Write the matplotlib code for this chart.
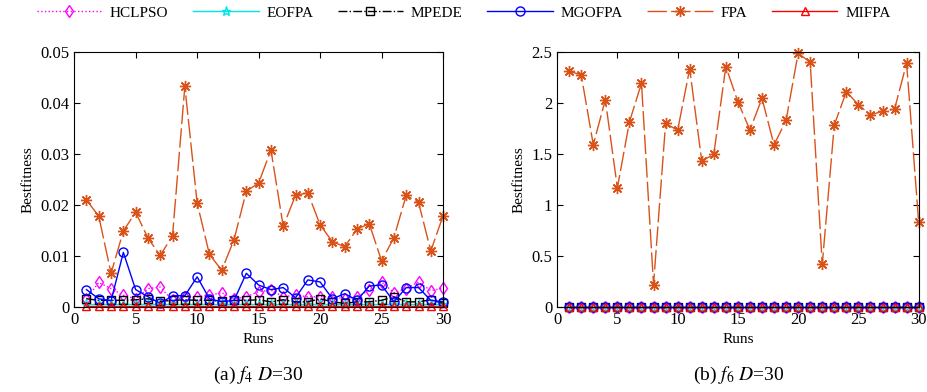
import numpy as np
import matplotlib
matplotlib.use("Agg")
import matplotlib.pyplot as plt

plt.rcParams['font.family'] = ['Liberation Serif', 'DejaVu Serif']
plt.rcParams['mathtext.fontset'] = 'stix'

runs = np.arange(1, 31)

# (a) f4 D=30
hclpso_a = [0.0016, 0.0048, 0.0036, 0.0023, 0.0016, 0.0036, 0.0039, 0.0013, 0.0020, 0.0020,
            0.0023, 0.0028, 0.0016, 0.0020, 0.0030, 0.0033, 0.0020, 0.0023, 0.0020, 0.0020,
            0.0020, 0.0016, 0.0020, 0.0033, 0.0049, 0.0028, 0.0036, 0.0049, 0.0032, 0.0037]
eofpa_a = [0.0005] * 30
mpede_a = [0.0016, 0.0013, 0.0013, 0.0013, 0.0014, 0.0016, 0.0011, 0.0013, 0.0014, 0.0013,
           0.0013, 0.0011, 0.0013, 0.0013, 0.0014, 0.0010, 0.0014, 0.0010, 0.0010, 0.0016,
           0.0010, 0.0007, 0.0010, 0.0010, 0.0013, 0.0020, 0.0010, 0.0010, 0.0014, 0.0007]
mgofpa_a = [0.0034, 0.0016, 0.0012, 0.0107, 0.0034, 0.0020, 0.0007, 0.0022, 0.0022, 0.0059,
            0.0016, 0.0010, 0.0013, 0.0066, 0.0043, 0.0034, 0.0038, 0.0018, 0.0053, 0.0049,
            0.0016, 0.0026, 0.0013, 0.0041, 0.0043, 0.0010, 0.0038, 0.0038, 0.0013, 0.0010]
fpa_a = [0.0210, 0.0178, 0.0066, 0.0149, 0.0186, 0.0135, 0.0101, 0.0140, 0.0433, 0.0204,
         0.0103, 0.0072, 0.0132, 0.0227, 0.0243, 0.0308, 0.0158, 0.0219, 0.0224, 0.0161,
         0.0128, 0.0118, 0.0153, 0.0163, 0.0090, 0.0136, 0.0219, 0.0205, 0.0110, 0.0179]
mifpa_a = [0.0001] * 30

# (b) f6 D=30
zeros_b = [0.0] * 30
fpa_b = [2.313, 2.276, 1.592, 2.033, 1.168, 1.816, 2.194, 0.220, 1.800, 1.734,
         2.336, 1.431, 1.497, 2.359, 2.013, 1.737, 2.046, 1.589, 1.832, 2.490,
         2.400, 0.418, 1.786, 2.112, 1.984, 1.885, 1.918, 1.941, 2.391, 0.832]

names = ['HCLPSO', 'EOFPA', 'MPEDE', 'MGOFPA', 'FPA', 'MIFPA']
styles = [
    dict(color='#FF00FF', ls=':', marker='d', ms=6),
    dict(color='#00E5E5', ls='-', marker='*', ms=6.5),
    dict(color='black', ls='-.', marker='s', ms=6),
    dict(color='#0000FF', ls='-', marker='o', ms=6.5),
    dict(color='#D95319', ls=(0, (14, 3)), marker=(8, 2, 0), ms=8),
    dict(color='#FF0000', ls='-', marker='^', ms=6),
]

fig = plt.figure(figsize=(9.27, 3.92), dpi=100)
ax1 = fig.add_axes([0.080, 0.217, 0.398, 0.650])
ax2 = fig.add_axes([0.601, 0.217, 0.390, 0.650])

data_a = [hclpso_a, eofpa_a, mpede_a, mgofpa_a, fpa_a, mifpa_a]
data_b = [zeros_b, zeros_b, zeros_b, zeros_b, fpa_b, zeros_b]

handles = []
for ax, data in ((ax1, data_a), (ax2, data_b)):
    hs = []
    for name, st, vals in zip(names, styles, data):
        h, = ax.plot(runs, vals, linestyle=st['ls'], color=st['color'], lw=1,
                     marker=st['marker'], ms=st['ms'], mfc='none', mec=st['color'],
                     mew=1, label=name, clip_on=False)
        hs.append(h)
    handles = hs
    ax.set_xlim(0, 30)
    ax.set_xticks([0, 5, 10, 15, 20, 25, 30])
    ax.tick_params(direction='in', top=True, right=True, labelsize=12, length=4)
    ax.set_xlabel('Runs', fontsize=11)
    ax.set_ylabel('Bestfitness', fontsize=11)

ax1.set_ylim(0, 0.05)
ax1.set_yticks([0, 0.01, 0.02, 0.03, 0.04, 0.05])
ax1.set_yticklabels(['0', '0.01', '0.02', '0.03', '0.04', '0.05'])
ax2.set_ylim(0, 2.5)
ax2.set_yticks([0, 0.5, 1, 1.5, 2, 2.5])
ax2.set_yticklabels(['0', '0.5', '1', '1.5', '2', '2.5'])

fig.text(0.279, 0.03, r'(a) $f_4$ $D$=30', ha='center', fontsize=14)
fig.text(0.797, 0.03, r'(b) $f_6$ $D$=30', ha='center', fontsize=14)

fig.legend(handles=handles, loc='upper center', bbox_to_anchor=(0.5, 1.02), ncol=6,
           frameon=False, fontsize=11, handlelength=4.3, columnspacing=1.6,
           handletextpad=0.5)

fig.savefig('out.png', dpi=100)
